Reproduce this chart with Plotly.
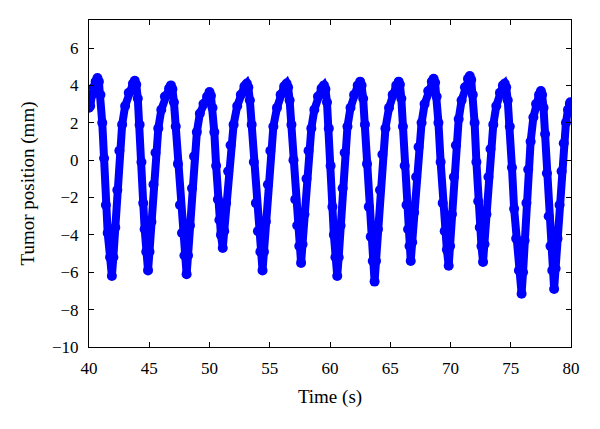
import plotly.graph_objects as go

time_s = [
    40.0, 40.1, 40.25, 40.4, 40.55, 40.7,
    40.82, 40.95, 41.1, 41.25, 41.4, 41.55, 41.75, 41.9,
    42.02, 42.18, 42.35, 42.52, 42.75, 43.0, 43.3, 43.65, 43.8,
    43.92, 44.05, 44.2, 44.35, 44.5, 44.62, 44.75, 44.9,
    45.02, 45.18, 45.35, 45.52, 45.75, 46.0, 46.3, 46.65, 46.8,
    46.92, 47.05, 47.2, 47.38, 47.55, 47.72, 47.92, 48.1,
    48.22, 48.38, 48.55, 48.72, 48.95, 49.2, 49.5, 49.8, 50.0,
    50.12, 50.25, 50.4, 50.55, 50.7, 50.82, 50.95, 51.1,
    51.22, 51.38, 51.55, 51.75, 52.0, 52.3, 52.6, 52.9, 53.1,
    53.22, 53.35, 53.5, 53.68, 53.85, 54.02, 54.22, 54.4,
    54.52, 54.68, 54.85, 55.05, 55.3, 55.6, 55.9, 56.2, 56.4,
    56.52, 56.65, 56.8, 56.97, 57.12, 57.28, 57.45, 57.6,
    57.72, 57.88, 58.05, 58.22, 58.45, 58.7, 59.0, 59.3, 59.5,
    59.62, 59.75, 59.9, 60.05, 60.2, 60.32, 60.45, 60.6,
    60.72, 60.88, 61.05, 61.22, 61.45, 61.7, 62.0, 62.3, 62.5,
    62.62, 62.75, 62.9, 63.07, 63.22, 63.38, 63.55, 63.7,
    63.82, 63.98, 64.15, 64.35, 64.6, 64.9, 65.2, 65.5, 65.7,
    65.8, 65.92, 66.05, 66.2, 66.35, 66.48, 66.6, 66.7,
    66.82, 66.98, 67.15, 67.35, 67.6, 67.85, 68.15, 68.45, 68.6,
    68.72, 68.85, 69.0, 69.18, 69.35, 69.52, 69.7, 69.85,
    69.97, 70.12, 70.28, 70.45, 70.68, 70.92, 71.2, 71.45, 71.6,
    71.72, 71.85, 72.0, 72.15, 72.3, 72.43, 72.57, 72.7,
    72.82, 72.98, 73.15, 73.32, 73.55, 73.8, 74.1, 74.35, 74.5,
    74.62, 74.75, 74.92, 75.1, 75.28, 75.45, 75.68, 75.9,
    76.02, 76.15, 76.3, 76.45, 76.65, 76.88, 77.1, 77.35, 77.5,
    77.6, 77.72, 77.85, 78.0, 78.15, 78.3, 78.45, 78.6,
    78.72, 78.88, 79.05, 79.22, 79.4, 79.58, 79.75, 79.9, 79.95,
]
position_mm = [
    2.8, 2.9, 3.5, 3.9, 4.2, 4.4,
    4.2, 3.5, 2.0, 0.1, -2.4, -3.9, -5.2, -6.2,
    -5.2, -3.6, -1.6, 0.5, 1.9, 2.9, 3.6, 4.1, 4.25,
    4.05, 3.3, 1.9, -0.1, -2.3, -3.7, -4.9, -5.9,
    -4.9, -3.3, -1.3, 0.4, 1.7, 2.7, 3.4, 3.85, 4.0,
    3.8, 3.1, 1.8, -0.2, -2.4, -3.9, -5.1, -6.1,
    -5.1, -3.5, -1.5, 0.2, 1.5, 2.5, 3.0, 3.4, 3.65,
    3.45, 2.8, 1.5, -0.3, -2.1, -3.2, -4.0, -4.7,
    -3.8, -2.3, -0.6, 0.8, 1.9, 2.9, 3.5, 3.95, 4.1,
    3.9, 3.2, 1.9, -0.1, -2.3, -3.8, -4.9, -5.9,
    -4.9, -3.3, -1.3, 0.5, 1.8, 2.8, 3.5, 3.95, 4.1,
    3.9, 3.2, 1.9, 0.0, -2.1, -3.5, -4.6, -5.5,
    -4.5, -2.9, -1.0, 0.5, 1.7, 2.7, 3.4, 3.85, 4.0,
    3.8, 3.1, 1.7, -0.3, -2.5, -4.0, -5.2, -6.2,
    -5.2, -3.5, -1.5, 0.4, 1.8, 2.8, 3.5, 4.0, 4.2,
    4.0, 3.3, 1.9, -0.2, -2.5, -4.1, -5.4, -6.5,
    -5.4, -3.7, -1.6, 0.3, 1.7, 2.8, 3.5, 4.0, 4.2,
    4.05, 3.3, 1.8, -0.3, -2.4, -3.7, -4.6, -5.4,
    -4.4, -2.8, -0.9, 0.7, 2.0, 3.0, 3.7, 4.2, 4.35,
    4.15, 3.4, 2.0, -0.1, -2.3, -3.8, -4.8, -5.65,
    -4.6, -2.9, -0.9, 0.8, 2.2, 3.2, 3.9, 4.35, 4.5,
    4.3, 3.5, 2.0, -0.1, -2.2, -3.6, -4.6, -5.45,
    -4.5, -2.9, -0.9, 0.6, 1.9, 2.9, 3.6, 4.0, 4.1,
    3.9, 3.2, 1.8, -0.4, -2.6, -4.2, -5.9, -7.15,
    -6.0, -4.3, -2.3, -0.5, 1.0, 2.3, 3.0, 3.5, 3.7,
    3.5, 2.8, 1.4, -0.7, -3.0, -4.6, -5.9, -6.9,
    -5.8, -4.2, -2.4, -0.6, 0.9, 2.0, 2.7, 3.0, 3.1,
]

x_ticks = [40, 45, 50, 55, 60, 65, 70, 75, 80]
y_ticks = [-10, -8, -6, -4, -2, 0, 2, 4, 6]
y_tick_text = ["\u221210", "\u22128", "\u22126", "\u22124", "\u22122", "0", "2", "4", "6"]

BLUE = "#0000ff"
FONT = "Liberation Serif"

fig = go.Figure()
fig.add_trace(go.Scatter(
    x=time_s, y=position_mm,
    mode="lines+markers",
    line=dict(color=BLUE, width=8),
    marker=dict(color=BLUE, size=10),
    showlegend=False,
    hoverinfo="skip",
))

axis_common = dict(
    showgrid=False, zeroline=False,
    showline=True, linecolor="black", linewidth=1.2,
    mirror="ticks", ticks="inside", ticklen=5, tickcolor="black", tickwidth=1,
    tickfont=dict(family=FONT, size=17, color="black"),
)

fig.update_layout(
    width=600, height=429,
    paper_bgcolor="white", plot_bgcolor="white",
    margin=dict(l=89, r=29, t=20, b=82),
    font=dict(family=FONT, color="black"),
    xaxis=dict(
        range=[40, 80], tickvals=x_ticks,
        title=dict(text="Time (s)", font=dict(family=FONT, size=19), standoff=13),
        ticklabelstandoff=5,
        **axis_common,
    ),
    yaxis=dict(
        range=[-10, 7.5], tickvals=y_ticks, ticktext=y_tick_text,
        title=dict(text="Tumor position (mm)", font=dict(family=FONT, size=19), standoff=12),
        ticklabelstandoff=6,
        **axis_common,
    ),
)

fig.write_html(
    "out.html",
    config={"displayModeBar": False},
    post_script="document.body.style.margin='0';document.body.style.overflow='hidden';",
)
